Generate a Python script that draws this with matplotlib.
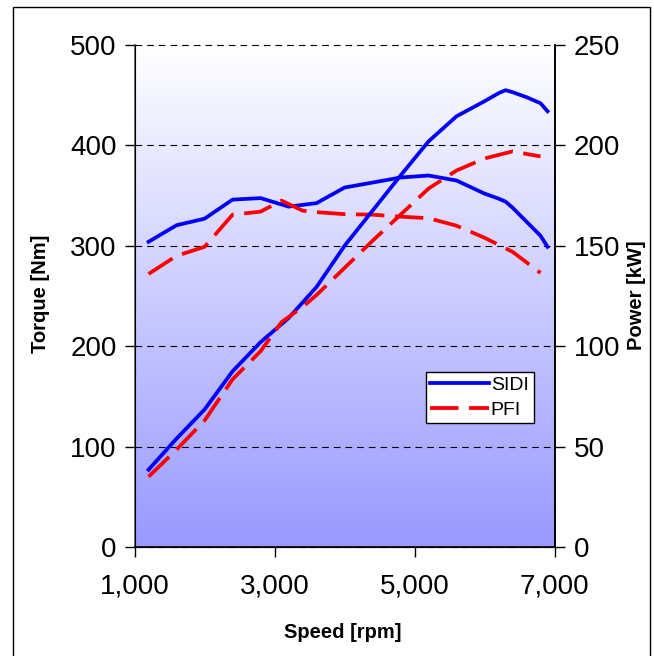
import numpy as np
import matplotlib.pyplot as plt
from matplotlib.patches import Rectangle
from matplotlib.ticker import FuncFormatter, FixedLocator, MultipleLocator
from matplotlib.colors import to_rgb

plt.rcParams['font.family'] = ['Liberation Sans', 'DejaVu Sans']

# engine speed [rpm], torque [Nm], power [kW]
sidi_rpm = [1200, 1600, 2000, 2400, 2800, 3200, 3600, 4000, 4400, 4800,
            5200, 5600, 6000, 6200, 6300, 6400, 6600, 6800, 6900]
sidi_torque = [304, 320.5, 327, 346, 347.5, 339, 342.5, 358, 363, 368,
               370, 365, 352, 347, 344, 338, 324, 310, 299]
sidi_power = [38.5, 54, 68.5, 87.5, 102, 114, 129.5, 150, 167.5, 185,
              202, 214.5, 222, 226, 227.5, 226.5, 224, 221, 217]

pfi_rpm = [1200, 1600, 2000, 2400, 2800, 3100, 3400, 3600, 4000, 4400,
           4800, 5200, 5600, 6000, 6400, 6800]
pfi_torque = [272, 290, 299, 331, 334, 345, 335, 333.5, 331.5, 331,
              329, 327.5, 320, 308, 294, 273]
pfi_power = [35, 48.5, 63, 83.5, 97.5, 112, 119.5, 125.5, 139, 152.5,
             165.5, 178.5, 187.5, 193.5, 197, 194.5]

speed_ticks = [1000, 3000, 5000, 7000]

fig = plt.figure(figsize=(6.54, 6.56), dpi=100)
ax = fig.add_axes([0.2058, 0.1662, 0.6421, 0.7652])

# white-to-lavender background
top = np.array(to_rgb('#ffffff'))
bot = np.array(to_rgb('#9999ff'))
t = np.linspace(0, 1, 256)[:, None]
grad = (top * (1 - t) + bot * t)[:, None, :]
ax.imshow(grad, extent=[1000, 7000, 0, 500], aspect='auto', zorder=0,
          interpolation='bilinear')

ax.set_xlim(1000, 7000)
ax.set_ylim(0, 500)
ax.xaxis.set_major_locator(FixedLocator(speed_ticks))
ax.yaxis.set_major_locator(MultipleLocator(100))
ax.xaxis.set_major_formatter(FuncFormatter(lambda v, p: f'{v:,.0f}'))
ax.grid(axis='y', color='black', linestyle=(0, (6, 4.5)), linewidth=0.8,
        clip_on=False)
ax.spines['top'].set_visible(False)
ax.spines['left'].set_color('#555555')
for s in ['left', 'right', 'bottom']:
    ax.spines[s].set_linewidth(1.2)
ax.tick_params(axis='both', direction='out', length=7, width=1, labelsize=20)
ax.tick_params(axis='y', pad=6)
ax.tick_params(axis='x', pad=12)

lw = 2.7
dash = (0, (7.6, 2.8))
l1, = ax.plot(sidi_rpm, sidi_torque, color='#0000ff', lw=lw,
              solid_joinstyle='round', zorder=3)
l2, = ax.plot(pfi_rpm, pfi_torque, color='#ff0000', lw=lw, linestyle=dash,
              dash_capstyle='butt', zorder=3)

ax2 = ax.twinx()
ax2.set_ylim(0, 250)
ax2.yaxis.set_major_locator(MultipleLocator(50))
ax2.spines['top'].set_visible(False)
ax2.spines['right'].set_linewidth(1.2)
ax2.tick_params(axis='y', direction='out', length=7, width=1, labelsize=20,
                pad=7)
ax2.plot(sidi_rpm, sidi_power, color='#0000ff', lw=lw,
         solid_joinstyle='round')
ax2.plot(pfi_rpm, pfi_power, color='#ff0000', lw=lw, linestyle=dash,
         dash_capstyle='butt')

leg = ax2.legend([l1, l2], ['SIDI', 'PFI'], loc='lower left',
                 bbox_to_anchor=(0.693, 0.246, 0.259, 0.112), mode='expand',
                 fontsize=14, frameon=True, fancybox=False, framealpha=1,
                 edgecolor='black', handlelength=3.0, handletextpad=0.1,
                 borderpad=0.25, labelspacing=0.35, borderaxespad=0)
leg.get_frame().set_linewidth(1)

fig.text(40 / 654, 1 - 294 / 656, 'Torque [Nm]', rotation=90, ha='center',
         va='center', fontsize=14.5, fontweight='bold')
fig.text(637 / 654, 1 - 295 / 656, 'Power [kW]', rotation=90, ha='center',
         va='center', fontsize=14.5, fontweight='bold')
fig.text(343 / 654, 1 - 632 / 656, 'Speed [rpm]', ha='center', va='center',
         fontsize=14.5, fontweight='bold')

# outer chart frame
fig.patches.append(Rectangle((13 / 654, -0.05), 637 / 654, 0.05 + 649 / 656,
                             transform=fig.transFigure, fill=False,
                             edgecolor='black', linewidth=1))

fig.savefig('out.png', dpi=100)
